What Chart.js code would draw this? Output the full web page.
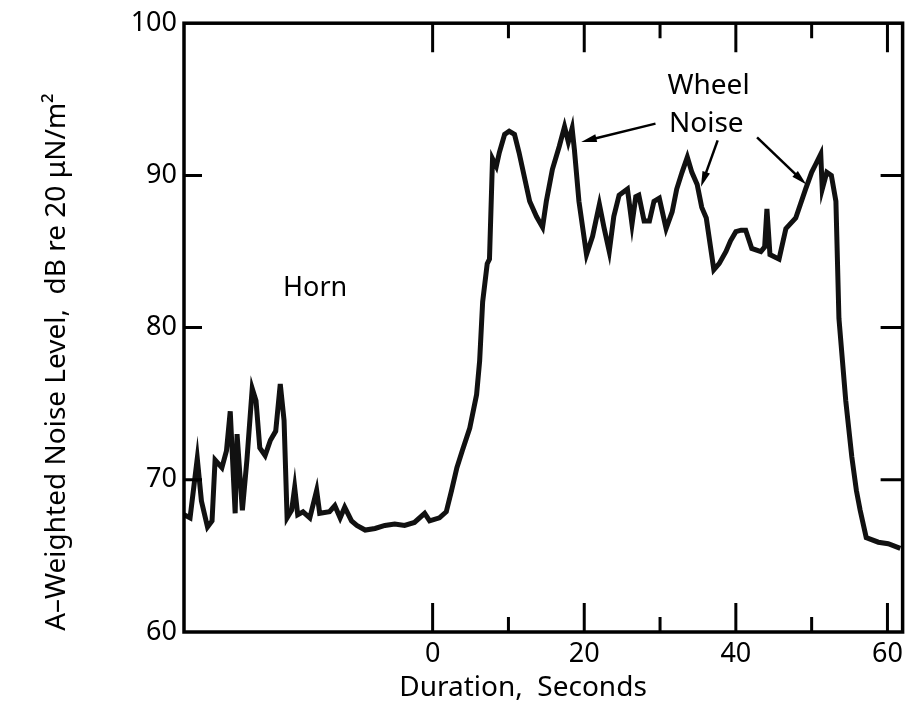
<!DOCTYPE html>
<html>
<head>
<meta charset="utf-8">
<script src="https://cdn.jsdelivr.net/npm/chart.js@4/dist/chart.umd.min.js"></script>
<style>
  html, body { margin: 0; padding: 0; background: #fff; }
  #wrap { width: 909px; height: 713px; position: relative; }
</style>
</head>
<body>
<div id="wrap"><canvas id="noise"></canvas></div>
<script>
// values
const timeSec = [
  -32.8, -32.0, -31.05, -30.5, -29.7, -29.1, -28.7, -27.8, -27.2, -26.7,
  -26.05, -25.8, -25.1, -24.5, -23.8, -23.3, -22.8, -22.1, -21.4, -20.7,
  -20.1, -19.6, -19.2, -18.6, -18.2, -17.8, -17.1, -16.2, -15.3, -14.9,
  -13.6, -12.9, -12.2, -11.6, -10.7, -10.0, -8.9, -7.6, -6.3, -5.0,
  -3.7, -2.4, -1.05, -0.4, 0.9, 1.8, 2.5, 3.2, 3.9, 4.9,
  5.8, 6.2, 6.6, 7.2, 7.5, 7.9, 8.4, 8.8, 9.5, 10.1,
  10.8, 11.4, 12.8, 13.7, 14.5, 15.0, 15.8, 16.7, 17.4, 17.9,
  18.4, 18.7, 19.3, 20.3, 21.1, 22.0, 22.6, 23.3, 23.9, 24.6,
  25.7, 26.3, 26.8, 27.2, 27.9, 28.6, 29.2, 29.9, 30.8, 31.6,
  32.2, 32.9, 33.6, 34.2, 34.9, 35.5, 36.1, 37.1, 37.8, 38.7,
  39.3, 40.0, 40.7, 41.3, 42.1, 43.3, 43.8, 44.1, 44.5, 45.7,
  46.6, 47.9, 49.2, 50.0, 50.5, 51.2, 51.4, 52.0, 52.6, 53.2,
  53.6, 54.5, 55.3, 55.9, 56.4, 57.2, 58.8, 60.1, 61.7
];
const levelDb = [
  67.7, 67.5, 71.4, 68.6, 66.9, 67.3, 71.3, 70.8, 71.9, 74.5,
  67.8, 73.0, 68.0, 71.3, 76.0, 75.2, 72.1, 71.6, 72.6, 73.2,
  76.3, 73.9, 67.5, 68.0, 69.5, 67.7, 67.9, 67.5, 69.3, 67.8,
  67.9, 68.3, 67.5, 68.2, 67.3, 67.0, 66.7, 66.8, 67.0, 67.1,
  67.0, 67.2, 67.8, 67.3, 67.5, 67.9, 69.3, 70.8, 71.9, 73.4,
  75.6, 77.8, 81.7, 84.2, 84.5, 91.1, 90.6, 91.5, 92.7, 92.9,
  92.7, 91.5, 88.3, 87.3, 86.6, 88.3, 90.4, 91.9, 93.2, 92.2,
  93.1, 91.7, 88.3, 84.8, 86.0, 88.1, 86.6, 85.0, 87.3, 88.7,
  89.1, 86.8, 88.6, 88.7, 87.0, 87.0, 88.3, 88.5, 86.5, 87.6,
  89.1, 90.2, 91.2, 90.2, 89.4, 87.9, 87.2, 83.8, 84.2, 85.0,
  85.7, 86.3, 86.4, 86.4, 85.2, 85.0, 85.3, 87.8, 84.8, 84.5,
  86.5, 87.2, 89.1, 90.2, 90.7, 91.4, 89.1, 90.2, 90.0, 88.3,
  80.6, 75.2, 71.5, 69.3, 68.0, 66.2, 65.9, 65.8, 65.5
];
const xTickLabels = [0, 20, 40, 60];
const xMinorTicks = [10, 30, 50];
const yTickLabels = [60, 70, 80, 90, 100];

const FONT = '"Noto Sans", sans-serif';

// frame, inward ticks, titles and the hand-lettered notes
const framePlugin = {
  id: 'frame',
  afterDraw(chart) {
    const { ctx, chartArea: a } = chart;
    const xs = chart.scales.x, ys = chart.scales.y;
    ctx.save();
    ctx.strokeStyle = '#000';
    ctx.lineWidth = 3.5;
    ctx.strokeRect(a.left, a.top, a.right - a.left, a.bottom - a.top);

    ctx.lineWidth = 3;
    ctx.beginPath();
    xTickLabels.forEach(v => {
      const px = xs.getPixelForValue(v);
      ctx.moveTo(px, a.bottom); ctx.lineTo(px, a.bottom - 29);
      ctx.moveTo(px, a.top); ctx.lineTo(px, a.top + 29);
    });
    xMinorTicks.forEach(v => {
      const px = xs.getPixelForValue(v);
      ctx.moveTo(px, a.bottom); ctx.lineTo(px, a.bottom - 15);
      ctx.moveTo(px, a.top); ctx.lineTo(px, a.top + 15);
    });
    yTickLabels.slice(1, -1).forEach(v => {
      const py = ys.getPixelForValue(v);
      ctx.moveTo(a.left, py); ctx.lineTo(a.left + 18, py);
      ctx.moveTo(a.right, py); ctx.lineTo(a.right - 22, py);
    });
    ctx.stroke();

    const P = (t, db) => [xs.getPixelForValue(t), ys.getPixelForValue(db)];

    // notes
    ctx.fillStyle = '#000';
    ctx.textAlign = 'center';
    ctx.textBaseline = 'middle';
    ctx.font = '27px ' + FONT;
    let p = P(-15.5, 82.6); ctx.fillText('Horn', p[0], p[1]);
    ctx.font = '28px ' + FONT;
    p = P(36.4, 95.9); ctx.fillText('Wheel', p[0], p[1]);
    p = P(36.1, 93.4); ctx.fillText('Noise', p[0], p[1]);

    const arrow = (t0, d0, t1, d1) => {
      const [x0, y0] = P(t0, d0), [x1, y1] = P(t1, d1);
      const ang = Math.atan2(y1 - y0, x1 - x0);
      ctx.lineWidth = 2.5;
      ctx.beginPath();
      ctx.moveTo(x0, y0);
      ctx.lineTo(x1 - 10 * Math.cos(ang), y1 - 10 * Math.sin(ang));
      ctx.stroke();
      ctx.beginPath();
      ctx.moveTo(x1, y1);
      ctx.lineTo(x1 - 16 * Math.cos(ang - 0.25), y1 - 16 * Math.sin(ang - 0.25));
      ctx.lineTo(x1 - 16 * Math.cos(ang + 0.25), y1 - 16 * Math.sin(ang + 0.25));
      ctx.closePath();
      ctx.fill();
    };
    arrow(29.4, 93.4, 19.6, 92.2);
    arrow(37.6, 92.3, 35.4, 89.25);
    arrow(42.8, 92.5, 49.3, 89.4);

    // axis titles
    ctx.font = '28px ' + FONT;
    ctx.fillText('Duration,  Seconds', 523, 688);
    ctx.save();
    ctx.translate(57, 362);
    ctx.rotate(-Math.PI / 2);
    ctx.font = '28px ' + FONT;
    ctx.fillText('A\u2013Weighted Noise Level,  dB re 20 \u03bcN/m\u00b2', 0, 0);
    ctx.restore();
    ctx.restore();
  }
};

new Chart(document.getElementById('noise'), {
  type: 'line',
  data: {
    datasets: [{
      data: timeSec.map((t, i) => ({ x: t, y: levelDb[i] })),
      borderColor: '#111',
      borderWidth: 5,
      pointRadius: 0,
      tension: 0,
      fill: false
    }]
  },
  options: {
    responsive: true,
    maintainAspectRatio: false,
    animation: false,
    layout: { padding: { top: 21, right: 5, left: 0, bottom: 0 } },
    plugins: { legend: { display: false }, tooltip: { enabled: false } },
    scales: {
      x: {
        type: 'linear',
        min: -32.8,
        max: 62,
        afterBuildTicks: s => { s.ticks = xTickLabels.map(v => ({ value: v })); },
        afterFit: s => { s.height = 81; },
        grid: { display: false, drawTicks: false },
        border: { display: false },
        ticks: { color: '#000', padding: 6, font: { family: FONT, size: 27 } }
      },
      y: {
        min: 60,
        max: 100,
        afterBuildTicks: s => { s.ticks = yTickLabels.map(v => ({ value: v })); },
        afterFit: s => { s.width = 184; },
        grid: { display: false, drawTicks: false },
        border: { display: false },
        ticks: { color: '#000', padding: 7, font: { family: FONT, size: 27 } }
      }
    }
  },
  plugins: [framePlugin]
});
</script>
</body>
</html>
